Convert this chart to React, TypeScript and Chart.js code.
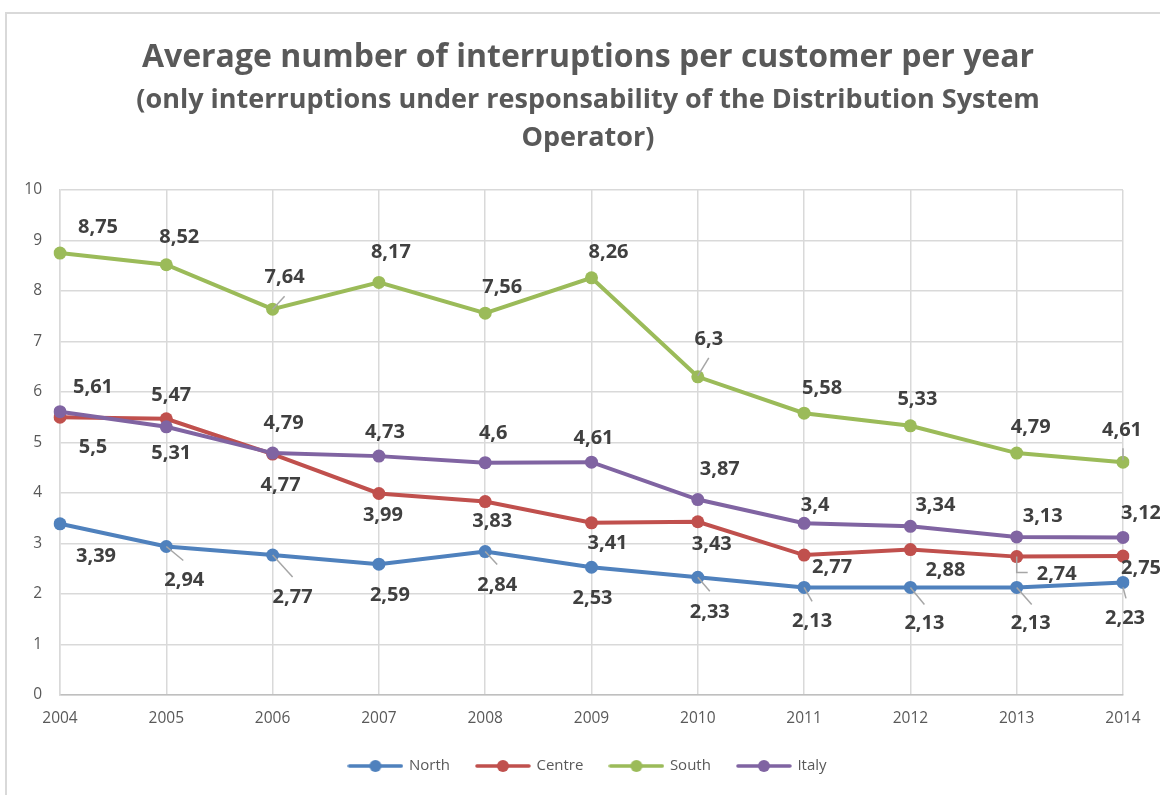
import React, { useEffect, useRef } from 'react';
import { Chart, registerables } from 'chart.js';

Chart.register(...registerables);

// ---------- data ----------
const years = ['2004', '2005', '2006', '2007', '2008', '2009', '2010', '2011', '2012', '2013', '2014'];
const north = [3.39, 2.94, 2.77, 2.59, 2.84, 2.53, 2.33, 2.13, 2.13, 2.13, 2.23];
const centre = [5.5, 5.47, 4.77, 3.99, 3.83, 3.41, 3.43, 2.77, 2.88, 2.74, 2.75];
const south = [8.75, 8.52, 7.64, 8.17, 7.56, 8.26, 6.3, 5.58, 5.33, 4.79, 4.61];
const italy = [5.61, 5.31, 4.79, 4.73, 4.6, 4.61, 3.87, 3.4, 3.34, 3.13, 3.12];
const seriesNames = ['North', 'Centre', 'South', 'Italy'];

const titleText = 'Average number of interruptions per customer per year';
const subtitleLines = ['(only interruptions under responsability of the Distribution System', 'Operator)'];

// ---------- styling ----------
const seriesColors = ['#4f81bd', '#c0504d', '#9bbb59', '#8064a2'];

// label placement relative to each point (dx, dy of label centre)
const northLabelOffsets = [[36, 32], [18, 34], [20, 42], [11, 31], [12, 34], [1, 31], [12, 35], [8, 34], [14, 36], [14, 36], [2, 36]];
const centreLabelOffsets = [[33, 30], [5, -23], [8, 31], [4, 22], [7, 20], [16, 21], [14, 23], [28, 12], [35, 21], [40, 18], [18, 12]];
const southLabelOffsets = [[38, -26], [13, -27], [12, -32], [12, -30], [17, -26], [17, -26], [11, -38], [18, -25], [7, -27], [14, -26], [-1, -32]];
const italyLabelOffsets = [[33, -24], [5, 26], [11, -30], [6, -24], [8, -29], [2, -24], [22, -30], [11, -18], [25, -21], [26, -21], [18, -24]];

type Leader = number[][] | null;
const northLeaders: Leader[] = [null, [[0, 0], [17, 14]], [[0, 0], [20, 22]], null, [[0, 0], [12, 13]], null, [[0, 0], [12, 14]], [[0, 0], [8, 14]], [[0, 0], [14, 17]], [[0, 0], [15, 17]], [[0, 5], [3, 16]]];
const centreLeaders: Leader[] = [null, null, null, null, null, null, null, null, null, [[0, 0], [0, 16], [11, 16]], null];
const southLeaders: Leader[] = [null, null, [[0, 0], [12, -13]], null, null, null, [[0, -1], [11, -19]], null, null, null, [[0, -14], [0, -2]]];
const italyLeaders: Leader[] = [null, null, null, null, null, null, null, null, null, null, null];

const labelOffsets = [northLabelOffsets, centreLabelOffsets, southLabelOffsets, italyLabelOffsets];
const leaders = [northLeaders, centreLeaders, southLeaders, italyLeaders];

const FONT = "'Open Sans', 'Noto Sans', sans-serif";

const framePlugin = {
  id: 'frame',
  beforeDraw(chart: any) {
    const { ctx } = chart;
    ctx.save();
    ctx.fillStyle = '#ffffff';
    ctx.fillRect(0, 0, chart.width, chart.height);
    ctx.strokeStyle = '#d9d9d9';
    ctx.lineWidth = 2;
    ctx.beginPath();
    ctx.moveTo(6, chart.height + 5);
    ctx.lineTo(6, 13);
    ctx.lineTo(chart.width + 5, 13);
    ctx.stroke();
    ctx.restore();
  },
};

const valueLabelPlugin = {
  id: 'valueLabels',
  afterDatasetsDraw(chart: any) {
    const { ctx } = chart;
    ctx.save();
    chart.data.datasets.forEach((ds: any, di: number) => {
      const meta = chart.getDatasetMeta(di);
      meta.data.forEach((pt: any, i: number) => {
        const ld = leaders[di][i];
        if (ld) {
          ctx.strokeStyle = '#a6a6a6';
          ctx.lineWidth = 1.5;
          ctx.beginPath();
          ld.forEach((p, k) => {
            if (k === 0) ctx.moveTo(pt.x + p[0], pt.y + p[1]);
            else ctx.lineTo(pt.x + p[0], pt.y + p[1]);
          });
          ctx.stroke();
        }
      });
    });
    ctx.font = `bold 20px ${FONT}`;
    ctx.fillStyle = '#404040';
    ctx.textAlign = 'center';
    ctx.textBaseline = 'middle';
    chart.data.datasets.forEach((ds: any, di: number) => {
      const meta = chart.getDatasetMeta(di);
      meta.data.forEach((pt: any, i: number) => {
        const off = labelOffsets[di][i];
        const txt = String(ds.data[i]).replace('.', ',');
        ctx.fillText(txt, pt.x + off[0], pt.y + off[1]);
      });
    });
    ctx.restore();
  },
};

function makeLegendIcon(color: string): HTMLCanvasElement {
  const c = document.createElement('canvas');
  c.width = 56;
  c.height = 14;
  const g = c.getContext('2d')!;
  g.strokeStyle = color;
  g.lineWidth = 3.5;
  g.lineCap = 'round';
  g.beginPath();
  g.moveTo(2, 7);
  g.lineTo(54, 7);
  g.stroke();
  g.fillStyle = color;
  g.beginPath();
  g.arc(28, 7, 6, 0, Math.PI * 2);
  g.fill();
  return c;
}

export default function App() {
  const ref = useRef<HTMLCanvasElement | null>(null);

  useEffect(() => {
    if (!ref.current) return;
    const icons = seriesColors.map(makeLegendIcon);
    const values = [north, centre, south, italy];
    const chart = new Chart(ref.current, {
      type: 'line',
      data: {
        labels: years,
        datasets: values.map((v, i) => ({
          label: seriesNames[i],
          data: v,
          borderColor: seriesColors[i],
          backgroundColor: seriesColors[i],
          borderWidth: 4,
          pointRadius: 6.5,
          pointBorderWidth: 0,
          pointBackgroundColor: seriesColors[i],
          pointBorderColor: seriesColors[i],
          tension: 0,
          order: 4 - i,
          yAxisID: 'y',
        })),
      },
      options: {
        animation: false,
        responsive: false,
        devicePixelRatio: 1,
        layout: { padding: { top: 0, left: 25, right: 9, bottom: 11.5 } },
        plugins: {
          title: {
            display: true,
            text: titleText,
            color: '#595959',
            font: { family: FONT, size: 32, weight: 'bold', lineHeight: 1.2 },
            padding: { top: 38.8, bottom: 3.8 },
          },
          subtitle: {
            display: true,
            text: subtitleLines,
            color: '#595959',
            font: { family: FONT, size: 27, weight: 'bold', lineHeight: 1.407 },
            padding: { top: 0, bottom: 33 },
          },
          legend: {
            position: 'bottom',
            labels: {
              usePointStyle: true,
              pointStyleWidth: 52,
              padding: 27,
              color: '#595959',
              font: { family: FONT, size: 15 },
              generateLabels: (ch: any) =>
                ch.data.datasets.map((ds: any, i: number) => ({
                  text: ds.label,
                  pointStyle: icons[i],
                  fillStyle: seriesColors[i],
                  strokeStyle: seriesColors[i],
                  lineWidth: 0,
                  hidden: false,
                  datasetIndex: i,
                  fontColor: '#595959',
                })),
            },
          },
          tooltip: { enabled: false },
        },
        scales: {
          x: {
            offset: false,
            grid: { color: '#d9d9d9', lineWidth: 1.5, drawTicks: false },
            border: { color: '#bfbfbf', width: 1.5 },
            ticks: { color: '#595959', font: { family: FONT, size: 15.5 }, padding: 14, maxRotation: 0, autoSkip: false },
            afterFit: (s: any) => {
              s.height = 36.5;
            },
          },
          y: {
            position: 'left',
            min: 0,
            max: 10,
            grid: { color: '#d9d9d9', lineWidth: 1.5, drawTicks: false },
            border: { color: '#d9d9d9', width: 1.5 },
            ticks: { stepSize: 1, color: '#595959', font: { family: FONT, size: 15.5 }, padding: 18 },
            afterFit: (s: any) => {
              s.width = 35;
            },
          },
          yRight: {
            position: 'right',
            display: true,
            grid: { display: false, drawOnChartArea: false },
            border: { display: false },
            ticks: { display: false },
            afterFit: (s: any) => {
              s.width = 28;
            },
          },
        },
      },
      plugins: [framePlugin, valueLabelPlugin],
    } as any);
    return () => chart.destroy();
  }, []);

  return (
    <div style={{ position: 'fixed', left: 0, top: 0, width: 1160, height: 795, overflow: 'hidden', background: '#fff' }}>
      <canvas ref={ref} width={1160} height={795} style={{ display: 'block', width: 1160, height: 795 }} />
    </div>
  );
}
